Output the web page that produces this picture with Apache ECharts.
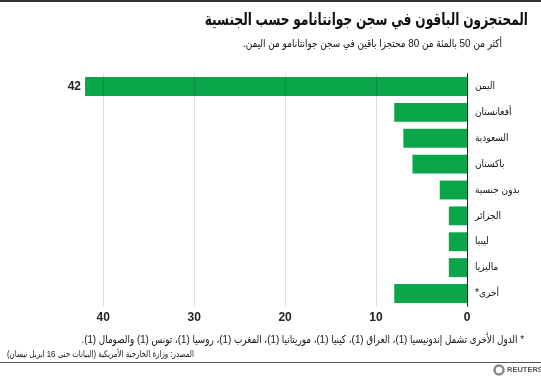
<!DOCTYPE html>
<html>
<head>
<meta charset="utf-8">
<script src="https://cdn.jsdelivr.net/npm/echarts@6/dist/echarts.min.js"></script>
<style>
html,body{margin:0;padding:0;background:#fff;}
#c{width:541px;height:378px;}
</style>
</head>
<body>
<div id="c" dir="rtl"></div>
<script>
const categories = ['اليمن','أفغانستان','السعودية','باكستان','بدون جنسية','الجزائر','ليبيا','ماليزيا','أخرى*'];
const values = [42, 8, 7, 6, 3, 2, 2, 2, 8];
const labelledValue = 42;
const xTicks = [0, 10, 20, 30, 40];

const titleText = 'المحتجزون الباقون في سجن جوانتانامو حسب الجنسية';
const subtitleText = 'أكثر من 50 بالمئة من 80 محتجزا باقين في سجن جوانتانامو من اليمن.';
const footnoteText = '* الدول الأخرى تشمل إندونيسيا (1)، العراق (1)، كينيا (1)، موريتانيا (1)، المغرب (1)، روسيا (1)، تونس (1) والصومال (1).';
const sourceText = 'المصدر: وزارة الخارجية الأمريكية (البيانات حتى 16 ابريل نيسان)';

const FONT = '"Liberation Sans", "DejaVu Sans Condensed", "DejaVu Sans", sans-serif';
const GREEN = '#0ca64a';

const chart = echarts.init(document.getElementById('c'), null, {renderer: 'canvas'});
chart.setOption({
  animation: false,
  backgroundColor: '#fff',
  textStyle: {fontFamily: FONT},
  grid: {left: 85, right: 74, top: 73.6, bottom: 71.6, containLabel: false},
  xAxis: {
    type: 'value',
    inverse: true,
    min: xTicks[0],
    max: 42,
    interval: 10,
    axisLine: {show: false},
    axisTick: {show: false},
    splitLine: {show: false},
    axisLabel: {
      color: '#222', fontSize: 12, fontWeight: 'bold', margin: 5, fontFamily: FONT,
      formatter: v => (xTicks.indexOf(v) >= 0 ? String(v) : '')
    }
  },
  yAxis: {
    type: 'category',
    data: categories,
    inverse: true,
    position: 'right',
    axisLine: {show: true, lineStyle: {color: '#222', width: 1}},
    axisTick: {show: false},
    axisLabel: {color: '#111', fontSize: 10, margin: 8, fontFamily: FONT}
  },
  series: [{
    type: 'bar',
    data: values.map(v => ({
      value: v,
      label: v === labelledValue ? {show: true, position: 'left', distance: 4, color: '#222', fontSize: 12, fontWeight: 'bold', fontFamily: FONT} : {show: false}
    })),
    barCategoryGap: '27%',
    itemStyle: {color: GREEN},
    markLine: {
      silent: true,
      symbol: 'none',
      label: {show: false},
      lineStyle: {color: 'rgba(0,0,0,0.13)', type: 'solid', width: 1},
      data: xTicks.filter(v => v > 0).map(v => ({xAxis: v}))
    }
  }],
  graphic: [
    {type: 'rect', shape: {x: 0, y: 0, width: 541, height: 2}, style: {fill: '#333'}},
    {type: 'text', x: 528, y: 20, scaleX: 0.794, style: {x: 0, y: 0, text: titleText, textAlign: 'right', textVerticalAlign: 'middle', font: 'bold 17px ' + FONT, fill: '#111'}},
    {type: 'text', x: 502, y: 44, scaleX: 0.9, style: {x: 0, y: 0, text: subtitleText, textAlign: 'right', textVerticalAlign: 'middle', font: '11px ' + FONT, fill: '#111'}},
    {type: 'text', x: 524, y: 340, scaleX: 0.89, style: {x: 0, y: 0, text: footnoteText, textAlign: 'right', textVerticalAlign: 'middle', font: '11px ' + FONT, fill: '#111'}},
    {type: 'text', x: 7, y: 355, scaleX: 0.87, style: {x: 0, y: 0, text: sourceText, textAlign: 'left', textVerticalAlign: 'middle', font: '9px ' + FONT, fill: '#111'}},
    {type: 'rect', shape: {x: 0, y: 362, width: 541, height: 1}, style: {fill: '#555'}},
    {type: 'circle', shape: {cx: 499, cy: 370, r: 4.5}, style: {fill: 'none', stroke: '#888', lineWidth: 2.5}},
    {type: 'text', style: {x: 507, y: 370, text: 'REUTERS', textAlign: 'left', textVerticalAlign: 'middle', font: 'bold 7.5px ' + FONT, fill: '#555'}}
  ]
});
</script>
</body>
</html>
